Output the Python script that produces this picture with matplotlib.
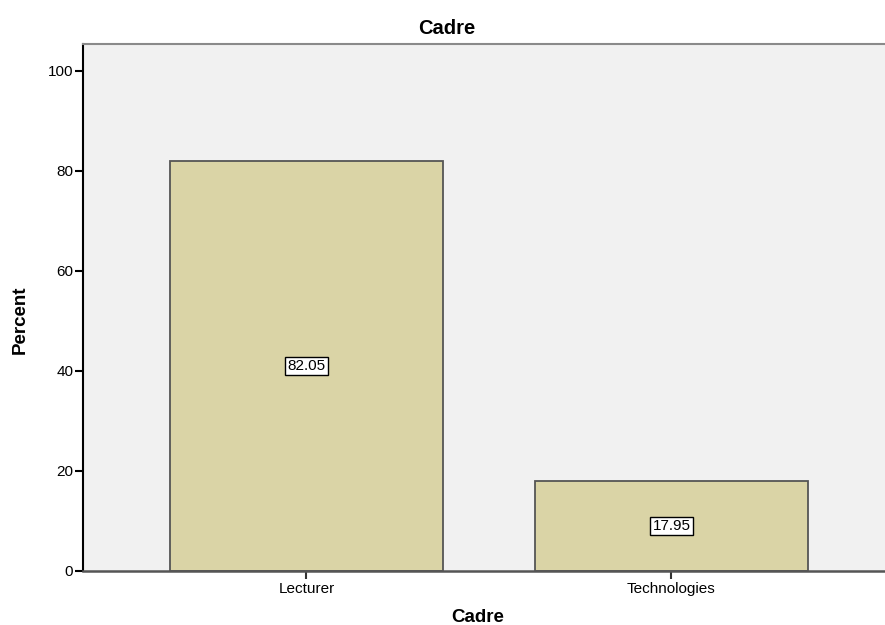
import matplotlib
matplotlib.use('Agg')
import matplotlib.pyplot as plt

plt.rcParams['font.family'] = ['Liberation Sans', 'DejaVu Sans']

categories = ['Lecturer', 'Technologies']
percents = [82.05, 17.95]
yticks = [0, 20, 40, 60, 80, 100]

W, H = 885, 625
fig = plt.figure(figsize=(W / 100, H / 100), dpi=100)
ax = fig.add_axes([83 / W, (H - 571) / H, (W - 83) / W, (571 - 44) / H])
ax.set_facecolor('#f1f1f1')

x = list(range(len(categories)))
ax.bar(x, percents, width=0.75, color='#dad4a6', edgecolor='#555555', linewidth=1.3, zorder=2)

# value labels in the middle of each bar
for xi, v in zip(x, percents):
    ax.text(xi, v / 2, f'{v:.2f}', ha='center', va='center', fontsize=11,
            bbox=dict(boxstyle='square,pad=0.15', facecolor='white', edgecolor='black', linewidth=1),
            zorder=3)

ax.set_xlim(-0.612, 1.585)
ax.set_ylim(0, 105.4)
ax.set_xticks(x)
ax.set_xticklabels(categories, fontsize=11)
ax.set_yticks(yticks)
ax.set_yticklabels([str(t) for t in yticks], fontsize=11)
ax.tick_params(axis='y', length=6, width=1.5, pad=1, color='black')
ax.tick_params(axis='x', length=6, width=1.5, pad=2, color='#333333')

ax.spines['left'].set_color('black')
ax.spines['left'].set_linewidth(1.5)
ax.spines['bottom'].set_color('#555555')
ax.spines['bottom'].set_linewidth(1.8)
ax.spines['top'].set_color('#8a8a8a')
ax.spines['top'].set_linewidth(1.5)
ax.spines['right'].set_visible(False)

fig.text(447 / W, 1 - 29 / H, 'Cadre', ha='center', va='center', fontsize=14.5, fontweight='bold')
fig.text(478 / W, 1 - 618 / H, 'Cadre', ha='center', va='center', fontsize=13.5, fontweight='bold')
fig.text(20 / W, 1 - 320 / H, 'Percent', ha='center', va='center', fontsize=13.5,
         fontweight='bold', rotation=90)

fig.savefig('out.png', dpi=100)
